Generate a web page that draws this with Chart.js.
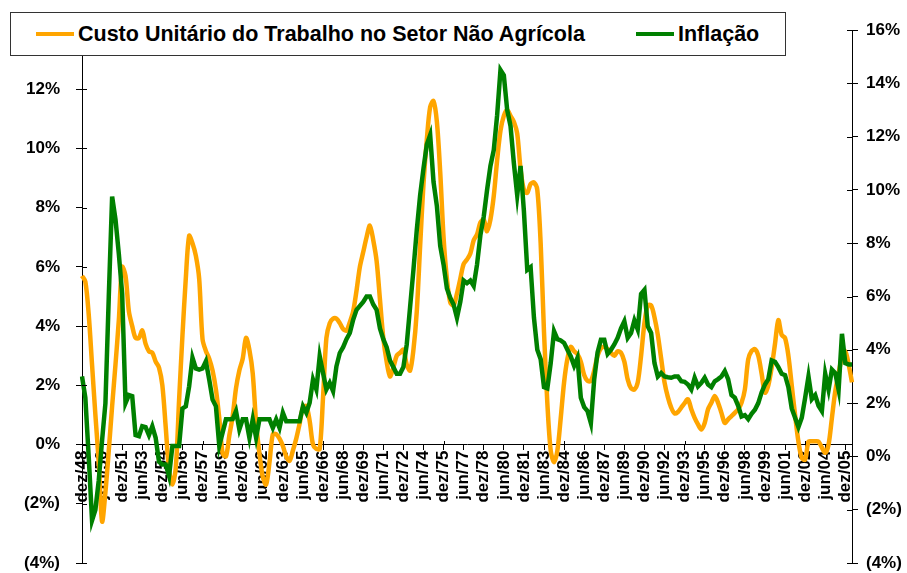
<!DOCTYPE html>
<html>
<head>
<meta charset="utf-8">
<script src="https://cdn.jsdelivr.net/npm/chart.js@4"></script>
<style>
  body { margin: 0; background: #fff; }
  #wrap { position: relative; width: 907px; height: 573px; }
  #legend {
    position: absolute; left: 10px; top: 12px; width: 774px; height: 42px;
    border: 1px solid #333; background: #fff;
    font: bold 21.5px 'Liberation Sans', Arial, sans-serif; color: #000;
  }
  .item { position: absolute; top: 0; height: 42px; display: flex; align-items: center; white-space: nowrap; }
  .swatch { display: inline-block; width: 38px; height: 4px; margin-right: 4px; }
</style>
</head>
<body>
<div id="wrap">
  <canvas id="chart" width="907" height="573"></canvas>
  <div id="legend"></div>
</div>
<script>
// quarterly, dez/48 .. jun/06
const months = ['mar', 'jun', 'set', 'dez'];
const quarters = ['dez/48'];
for (let y = 1949; y <= 2006; y++) {
    for (const m of months) {
        if (quarters.length < 231) quarters.push(m + '/' + String(y).slice(2));
    }
}

// left axis
const custoTrabalho = [
    5.7, 5.5, 4.4, 2.7, 1.0, -0.6, -2.6, -1.6, -0.2, 1.3,
    2.7, 4.2, 6.0, 5.7, 4.5, 4.0, 3.6, 3.6, 3.85, 3.4,
    3.15, 3.1, 2.8, 2.6, 2.0, 0.6, -0.85, -1.35, -0.8, 1.5,
    3.67, 5.6, 7.05, 6.8, 6.38, 5.6, 3.56, 3.16, 2.9, 2.5,
    1.86, 0.9, -0.3, -0.4, 0.3, 0.95, 1.9, 2.5, 2.9, 3.6,
    3.2, 2.4, 0.75, -0.3, -1.1, -1.35, -0.6, 0.35, 0.35, 0.2,
    -0.05, -0.4, -0.55, -0.2, 0.2, 0.7, 1.25, 1.3, 0.8, 0.0,
    -0.15, -0.15, 1.6, 3.6, 4.1, 4.25, 4.25, 4.1, 3.9, 3.85,
    4.13, 4.5, 5.2, 6.0, 6.5, 7.0, 7.4, 6.9, 6.2, 4.9,
    3.6, 2.8, 2.3, 2.6, 3.0, 3.1, 3.2, 2.7, 2.5, 3.2,
    4.5, 6.7, 8.8, 10.3, 11.4, 11.6, 10.9, 9.2, 7.0, 5.6,
    4.8, 4.7, 5.1, 5.6, 6.1, 6.25, 6.45, 6.9, 7.1, 7.5,
    7.6, 7.2, 7.6, 8.4, 9.6, 10.6, 11.1, 11.3, 11.1, 10.9,
    10.5, 9.3, 8.6, 8.5, 8.8, 8.85, 8.6, 6.8, 3.8, 1.4,
    -0.2, -0.6, -0.2, 0.9, 2.1, 2.9, 3.3, 3.15, 3.05, 2.8,
    2.35, 2.15, 2.15, 2.5, 3.0, 3.25, 3.3, 3.22, 3.1, 3.0,
    3.15, 3.1, 2.8, 2.2, 1.9, 1.86, 2.1, 3.0, 4.1, 4.7,
    4.7, 4.3, 3.7, 2.9, 2.1, 1.6, 1.25, 1.05, 1.1, 1.25,
    1.4, 1.53, 1.19, 0.9, 0.68, 0.51, 0.73, 1.19, 1.41, 1.64,
    1.41, 1.07, 0.73, 0.85, 0.96, 1.07, 1.19, 1.41, 1.86, 2.88,
    3.16, 3.22, 3.0, 2.4, 1.75, 2.0, 2.6, 3.4, 4.2, 3.7,
    3.6, 3.0, 2.0, 1.0, 0.1, -0.45, -0.51, 0.1, 0.11, 0.11,
    0.1, -0.1, -0.28, 0.0, 0.9, 1.8, 2.4, 2.95, 3.15, 2.7,
    2.1
];

// right axis
const inflacao = [
    3.0, 2.2, 0.0, -2.4, -2.0, -0.9, 0.6, 2.0, 6.0, 9.75,
    8.9, 7.6, 6.1, 2.0, 2.3, 2.26, 0.8, 0.76, 1.13, 1.1,
    0.8, 1.13, 0.7, -0.2, -0.3, -0.3, -0.74, 0.39, 0.39, 0.39,
    1.8, 1.88, 2.63, 3.7, 3.3, 3.26, 3.3, 3.57, 2.88, 2.13,
    1.88, 0.4, 0.89, 1.39, 1.39, 1.4, 1.7, 1.01, 1.39, 1.39,
    0.7, 1.39, 0.7, 1.39, 1.39, 1.39, 1.39, 1.07, 1.39, 1.07,
    1.64, 1.32, 1.32, 1.32, 1.32, 1.32, 1.88, 1.64, 2.01, 2.88,
    2.51, 3.76, 3.13, 2.51, 2.76, 2.45, 3.38, 3.88, 4.1, 4.4,
    4.63, 5.13, 5.5, 5.65, 5.8, 6.0, 6.0, 5.7, 5.5, 4.8,
    4.4, 4.1, 3.6, 3.35, 3.1, 3.1, 3.35, 4.2, 5.6, 7.0,
    8.5, 9.8, 10.8, 11.7, 12.06, 10.3, 9.4, 7.9, 7.2, 6.3,
    5.95, 5.7, 5.2, 5.8, 6.6, 6.5, 6.6, 6.4, 7.2, 8.3,
    9.0, 10.0, 10.9, 11.5, 12.8, 14.5, 14.3, 13.0, 12.4, 11.0,
    9.8, 10.9, 9.2, 7.0, 7.1, 5.2, 4.0, 3.65, 2.6, 2.55,
    3.5, 4.7, 4.4, 4.35, 4.26, 4.0, 3.75, 3.4, 3.7, 2.2,
    1.85, 1.7, 1.25, 2.9, 3.9, 4.38, 4.38, 3.85, 4.0, 4.2,
    4.45, 4.8, 5.07, 4.45, 4.63, 5.1, 4.76, 6.1, 6.25, 4.88,
    4.63, 3.5, 3.0, 3.13, 3.0, 2.97, 2.95, 3.0, 3.0, 2.82,
    2.8, 2.7, 2.51, 2.95, 2.63, 2.76, 2.95, 2.7, 2.6, 2.82,
    2.9, 3.0, 3.2, 2.9, 2.3, 2.2, 1.9, 1.5, 1.55, 1.4,
    1.6, 1.75, 2.0, 2.4, 2.7, 2.9, 3.6, 3.55, 3.35, 3.1,
    3.05, 2.6, 1.8, 1.45, 1.1, 1.45, 2.2, 3.0, 2.15, 2.3,
    1.9, 1.7, 3.1, 2.5, 3.26, 3.13, 2.5, 4.6, 3.5, 3.45,
    3.45
];

const colors = { orange: '#FFA500', green: '#008000' };
const font = { family: "'Liberation Sans', Arial, sans-serif", weight: 'bold' };

function pct(v) {
    return v < 0 ? '(' + Math.abs(v) + '%)' : v + '%';
}

// fixed axis widths, no extra label padding so the plot runs 30..563
function fixY(width) {
    return s => { s.width = width; s.paddingTop = 0; s.paddingBottom = 0; };
}

// Excel-style ticks crossing the axis line
const crossTicks = {
    id: 'crossTicks',
    afterDraw(chart) {
        const ctx = chart.ctx;
        const { x, y, y2 } = chart.scales;
        ctx.save();
        ctx.strokeStyle = '#000';
        ctx.lineWidth = 1;
        ctx.beginPath();
        y.ticks.forEach((t, i) => {
            const p = Math.round(y.getPixelForTick(i)) + 0.5;
            ctx.moveTo(y.right, p); ctx.lineTo(y.right + 5, p);
        });
        y2.ticks.forEach((t, i) => {
            const p = Math.round(y2.getPixelForTick(i)) + 0.5;
            ctx.moveTo(y2.left, p); ctx.lineTo(y2.left - 5, p);
        });
        const base = Math.round(y.getPixelForValue(0));
        x.ticks.forEach((t, i) => {
            if (i % 6 !== 0) return;
            const p = Math.round(x.getPixelForTick(i)) + 0.5;
            ctx.moveTo(p, base); ctx.lineTo(p, base - 4);
        });
        ctx.stroke();
        ctx.restore();
    }
};

const chart = new Chart(document.getElementById('chart'), {
    type: 'line',
    data: {
        labels: quarters,
        datasets: [{
            label: 'Custo Unitário do Trabalho no Setor Não Agrícola',
            data: custoTrabalho,
            yAxisID: 'y',
            borderColor: colors.orange,
            backgroundColor: colors.orange,
            borderWidth: 4.5,
            pointRadius: 0,
            tension: 0.3,
            order: 1
        }, {
            label: 'Inflação',
            data: inflacao,
            yAxisID: 'y2',
            borderColor: colors.green,
            backgroundColor: colors.green,
            borderWidth: 4.5,
            pointRadius: 0,
            tension: 0,
            order: 0
        }]
    },
    options: {
        responsive: false,
        animation: false,
        layout: { padding: { top: 30, bottom: 10, left: 0, right: 0 } },
        plugins: { legend: { display: false }, tooltip: { enabled: false } },
        scales: {
            x: {
                position: { y: 0 },
                offset: false,
                grid: { drawOnChartArea: false, tickLength: 5, color: '#000' },
                border: { color: '#000' },
                ticks: {
                    autoSkip: false,
                    minRotation: 90,
                    maxRotation: 90,
                    padding: 1,
                    color: '#000',
                    font: { ...font, size: 17 },
                    callback: (v, i) => (i % 6 === 0 ? quarters[i] : null)
                }
            },
            y: {
                position: 'left',
                min: -4,
                max: 14,
                afterFit: fixY(82),
                grid: { drawOnChartArea: false, tickLength: 6, color: '#000' },
                border: { color: '#000' },
                ticks: { stepSize: 2, padding: 16, color: '#000', font: { ...font, size: 17 }, callback: pct }
            },
            y2: {
                position: 'right',
                min: -4,
                max: 16,
                afterFit: fixY(55),
                grid: { drawOnChartArea: false, tickLength: 6, color: '#000' },
                border: { color: '#000' },
                ticks: { stepSize: 2, padding: 8, color: '#000', font: { ...font, size: 17 }, callback: pct }
            }
        }
    },
    plugins: [crossTicks]
});

// legend box drawn over the plot, like the original
const legend = document.getElementById('legend');
const legendLeft = [25, 625];
chart.data.datasets.forEach((ds, i) => {
    const item = document.createElement('div');
    item.className = 'item';
    item.style.left = legendLeft[i] + 'px';
    const sw = document.createElement('span');
    sw.className = 'swatch';
    sw.style.background = ds.borderColor;
    item.appendChild(sw);
    item.appendChild(document.createTextNode(ds.label));
    legend.appendChild(item);
});
</script>
</body>
</html>
